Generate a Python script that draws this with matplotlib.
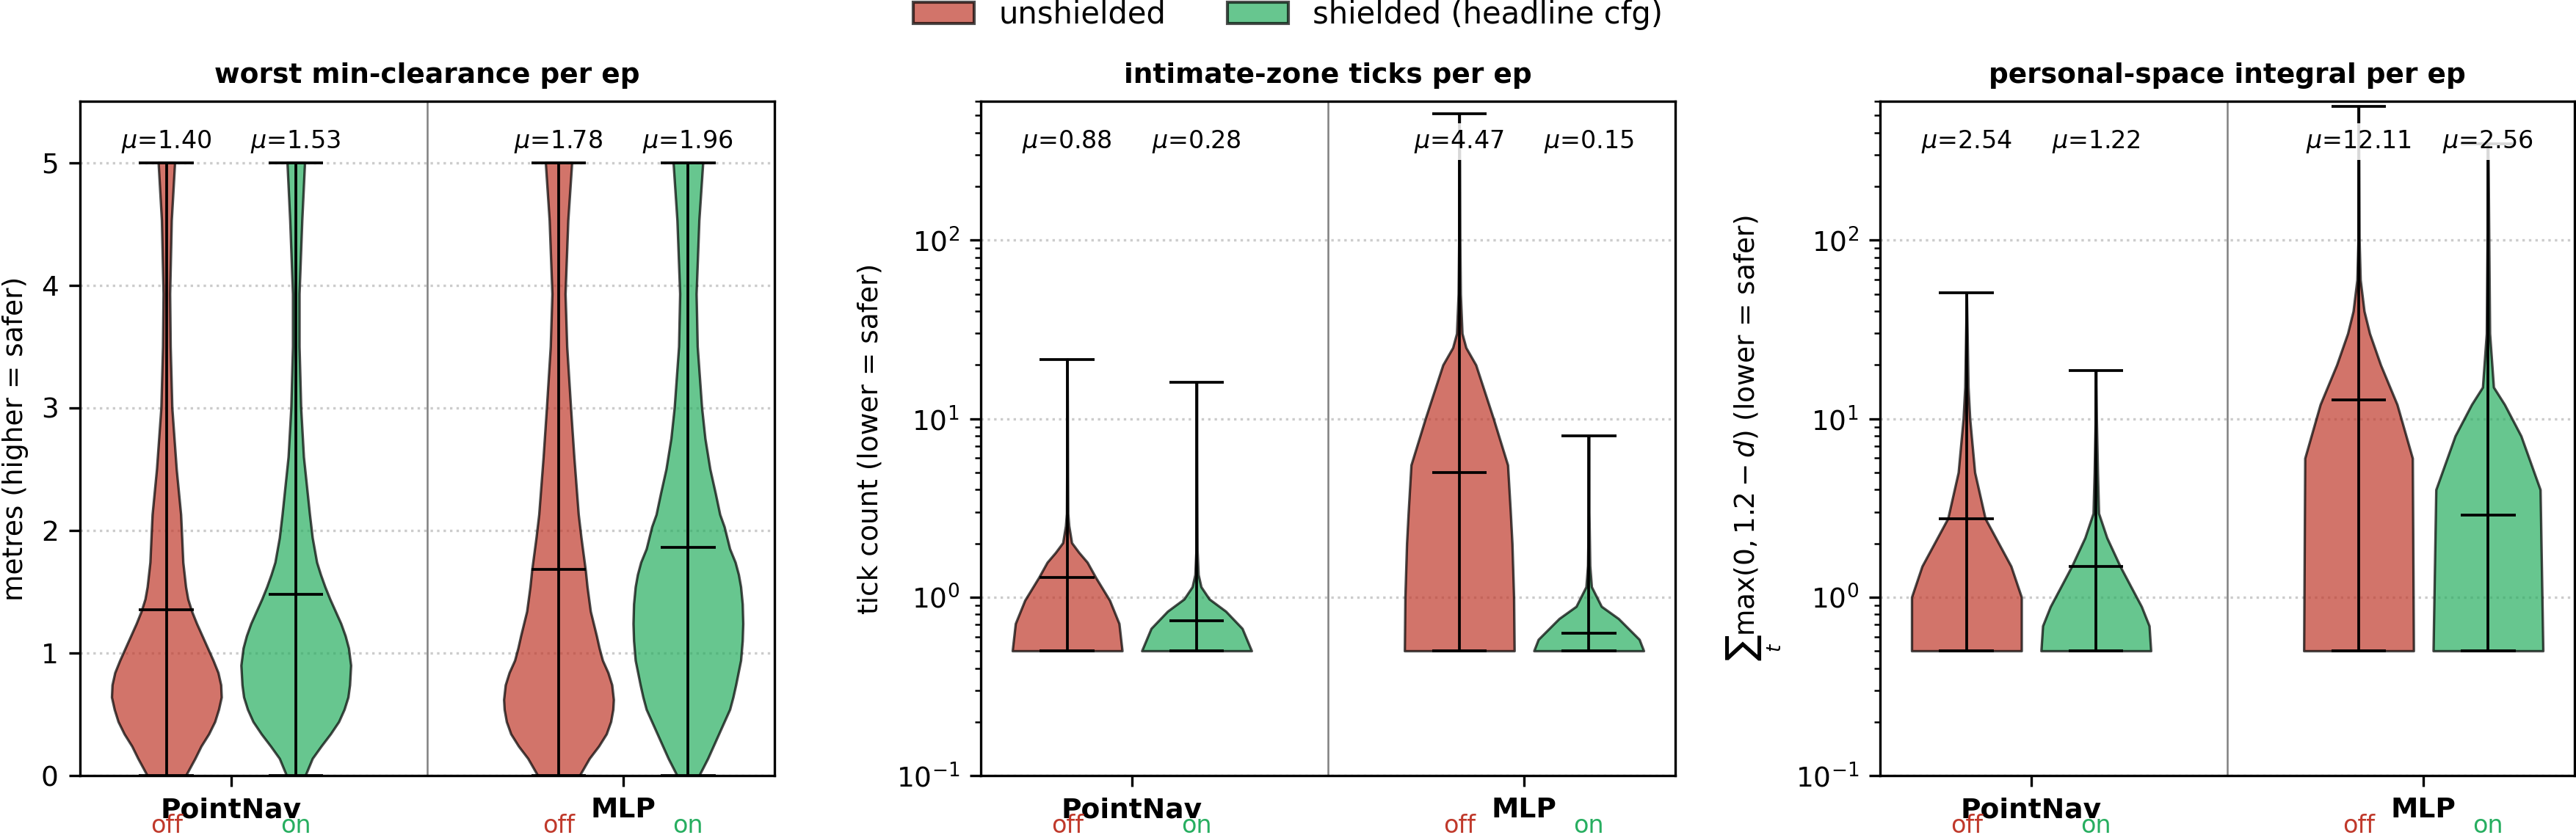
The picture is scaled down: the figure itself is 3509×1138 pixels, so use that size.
import numpy as np
import matplotlib.pyplot as plt
from matplotlib.patches import Patch

RED = '#c0392b'
GREEN = '#27ae60'

groups = ['PointNav', 'MLP']
conds = ['off', 'on']
titles = ['worst min-clearance per ep', 'intimate-zone ticks per ep',
          'personal-space integral per ep']
ylabels = ['metres (higher = safer)', 'tick count (lower = safer)',
           r'$\sum_t \max(0, 1.2 - d)$ (lower = safer)']

# violin order: PointNav off, PointNav on, MLP off, MLP on
# shapes: y coords and relative half-widths

# --- worst min-clearance
clear_mu = [1.40, 1.53, 1.78, 1.96]
clear_mean = [1.35, 1.48, 1.68, 1.86]
clear_min = [0, 0, 0, 0]
clear_max = [5, 5, 5, 5]
clear_y = [
    [0.0, 0.14, 0.24, 0.34, 0.44, 0.54, 0.64, 0.74, 0.84, 0.94, 1.04, 1.14, 1.24, 1.34, 1.44,
     1.54, 1.74, 1.94, 2.13, 2.5, 3.0, 3.5, 3.93, 4.53, 5.0],
    [0.0, 0.14, 0.24, 0.34, 0.44, 0.54, 0.64, 0.74, 0.90, 1.04, 1.14, 1.24, 1.34, 1.44, 1.54,
     1.64, 1.74, 1.94, 2.13, 2.6, 3.0, 3.5, 3.93, 4.53, 5.0],
    [0.0, 0.14, 0.24, 0.34, 0.44, 0.54, 0.62, 0.74, 0.84, 0.94, 1.04, 1.14, 1.34, 1.54, 1.67,
     1.94, 2.13, 2.6, 3.0, 3.5, 3.93, 4.53, 5.0],
    [0.0, 0.14, 0.24, 0.34, 0.44, 0.54, 0.64, 0.74, 0.94, 1.10, 1.24, 1.40, 1.54, 1.64, 1.74,
     1.85, 2.03, 2.13, 2.3, 2.5, 2.75, 3.0, 3.5, 3.93, 4.53, 5.0],
]
clear_w = [
    [0.35, 0.52, 0.63, 0.77, 0.88, 0.95, 1.0, 0.99, 0.94, 0.85, 0.75, 0.65, 0.55, 0.46, 0.39,
     0.35, 0.30, 0.28, 0.26, 0.18, 0.10, 0.07, 0.06, 0.09, 0.15],
    [0.17, 0.30, 0.46, 0.63, 0.78, 0.88, 0.95, 0.98, 1.0, 0.96, 0.90, 0.82, 0.72, 0.62, 0.53,
     0.45, 0.38, 0.30, 0.25, 0.14, 0.09, 0.06, 0.06, 0.11, 0.16],
    [0.38, 0.56, 0.73, 0.87, 0.95, 0.99, 1.0, 0.97, 0.90, 0.80, 0.74, 0.69, 0.58, 0.52, 0.49,
     0.41, 0.36, 0.28, 0.22, 0.15, 0.12, 0.17, 0.24],
    [0.20, 0.36, 0.46, 0.56, 0.66, 0.76, 0.82, 0.87, 0.96, 0.99, 1.0, 0.99, 0.96, 0.92, 0.86,
     0.76, 0.66, 0.58, 0.50, 0.40, 0.31, 0.25, 0.17, 0.15, 0.20, 0.27],
]

# --- intimate-zone ticks
ticks_mu = [0.88, 0.28, 4.47, 0.15]
ticks_mean = [1.29, 0.74, 4.97, 0.63]
ticks_min = [0.5, 0.5, 0.5, 0.5]
ticks_max = [21.5, 16, 510, 8]
ticks_y = [
    [0.5, 0.711, 0.96, 1.289, 1.567, 1.778, 2.016, 2.51, 2.94, 5, 10, 21.5],
    [0.5, 0.667, 0.833, 0.975, 1.142, 1.337, 1.83, 4, 16],
    [0.5, 1.0, 2.0, 3.0, 5.5, 10, 20, 25, 30, 50, 100, 300, 510],
    [0.5, 0.579, 0.758, 0.887, 1.142, 1.5, 3, 8],
]
ticks_w = [
    [1.0, 0.944, 0.772, 0.518, 0.365, 0.213, 0.081, 0.03, 0.012, 0.008, 0.005, 0.0],
    [1.0, 0.83, 0.53, 0.23, 0.08, 0.03, 0.01, 0.005, 0.0],
    [1.0, 0.99, 0.96, 0.93, 0.88, 0.62, 0.30, 0.12, 0.05, 0.02, 0.01, 0.005, 0.0],
    [1.0, 0.92, 0.54, 0.23, 0.05, 0.02, 0.005, 0.0],
]

# --- personal-space integral
ps_mu = [2.54, 1.22, 12.11, 2.56]
ps_mean = [2.76, 1.49, 12.7, 2.89]
ps_min = [0.5, 0.5, 0.5, 0.5]
ps_max = [50.6, 18.6, 560, 346]
ps_y = [
    [0.5, 1.0, 1.49, 2.76, 5, 10, 15, 50.6],
    [0.5, 0.69, 0.885, 1.14, 1.49, 2.15, 2.95, 5, 10, 18.6],
    [0.5, 6, 12, 20, 30, 40, 60, 100, 560],
    [0.5, 4, 8, 12, 15, 30, 346],
]
ps_w = [
    [1.0, 1.0, 0.81, 0.34, 0.15, 0.06, 0.03, 0.0],
    [1.0, 0.97, 0.83, 0.64, 0.44, 0.2, 0.05, 0.03, 0.01, 0.0],
    [1.0, 0.98, 0.7, 0.4, 0.2, 0.1, 0.03, 0.01, 0.0],
    [1.0, 0.95, 0.6, 0.3, 0.1, 0.03, 0.0],
]

panels = [
    (clear_mu, clear_mean, clear_min, clear_max, clear_y, clear_w),
    (ticks_mu, ticks_mean, ticks_min, ticks_max, ticks_y, ticks_w),
    (ps_mu, ps_mean, ps_min, ps_max, ps_y, ps_w),
]

positions = [-0.165, 0.165, 0.835, 1.165]
colors = [RED, GREEN, RED, GREEN]

fig = plt.figure(figsize=(3509 / 300, 1138 / 300), dpi=300)
lefts = [109 / 3509, 1336 / 3509, 2561 / 3509]
W = 946 / 3509
B = (1138 - 1057) / 1138
H = (1057 - 138) / 1138

for k, (mu, mean, vmin, vmax, ys, ws) in enumerate(panels):
    ax = fig.add_axes([lefts[k], B, W, H])
    stats = []
    for i in range(4):
        stats.append({'coords': np.array(ys[i]), 'vals': np.array(ws[i]),
                      'mean': mean[i], 'median': mean[i],
                      'min': vmin[i], 'max': vmax[i]})
    parts = ax.violin(stats, positions=positions, widths=0.28,
                      showmeans=True, showextrema=True)
    for body, c in zip(parts['bodies'], colors):
        body.set_facecolor(c)
        body.set_edgecolor('black')
        body.set_linewidth(0.8)
        body.set_alpha(0.7)
    for key in ('cmeans', 'cmins', 'cmaxes', 'cbars'):
        parts[key].set_color('black')
        parts[key].set_linewidth(0.9)

    if k == 0:
        ax.set_ylim(0, 5.5)
        ax.set_yticks([0, 1, 2, 3, 4, 5])
    else:
        ax.set_yscale('log')
        ax.set_ylim(0.1, 600)
    ax.set_xlim(-0.3855, 1.3855)
    ax.axvline(0.5, color='gray', lw=0.6)
    ax.yaxis.grid(True, which='major', ls=':', color='0.8', lw=0.8)
    ax.set_axisbelow(True)

    ax.set_xticks([0, 1])
    ax.set_xticklabels(groups, fontweight='bold', fontsize=9)
    ax.tick_params(axis='y', labelsize=9)
    ax.set_title(titles[k], fontweight='bold', fontsize=9)
    ax.set_ylabel(ylabels[k], fontsize=9)

    for i in range(4):
        ax.text(positions[i], 0.94, r'$\mu$=%.2f' % mu[i], transform=ax.get_xaxis_transform(),
                ha='center', va='center', fontsize=8,
                bbox=dict(boxstyle='square,pad=0.2', fc='white', ec='none', alpha=0.85))
        ax.text(positions[i], -0.085, conds[i % 2], transform=ax.get_xaxis_transform(),
                ha='center', va='baseline', fontsize=8, color=colors[i])

handles = [Patch(facecolor=RED, edgecolor='black', alpha=0.7, label='unshielded'),
           Patch(facecolor=GREEN, edgecolor='black', alpha=0.7, label='shielded (headline cfg)')]
fig.legend(handles=handles, loc='upper center', ncol=2, frameon=False, fontsize=10,
           bbox_to_anchor=(0.5, 1.034))

fig.savefig('out.png', dpi=300)
